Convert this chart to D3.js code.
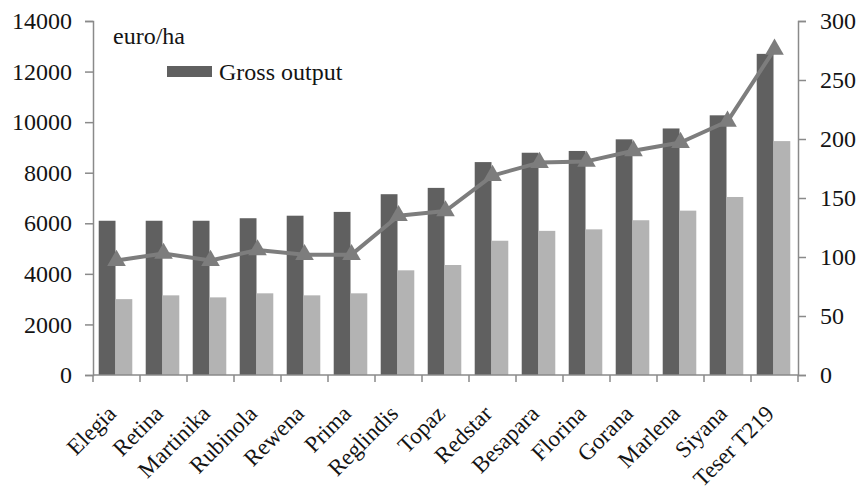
<!DOCTYPE html>
<html>
<head>
<meta charset="utf-8">
<script src="https://cdn.jsdelivr.net/npm/d3@7"></script>
<style>
  html, body { margin: 0; padding: 0; background: #fff; }
  svg { display: block; }
  text { font-family: "Liberation Serif", "Times New Roman", serif; fill: #141414; }
</style>
</head>
<body>
<svg id="chart" width="861" height="492"></svg>
<script>
// Apple varieties
const categories = ["Elegia", "Retina", "Martinika", "Rubinola", "Rewena", "Prima", "Reglindis",
  "Topaz", "Redstar", "Besapara", "Florina", "Gorana", "Marlena", "Siyana", "Teser T219"];

// euro/ha, left axis
const grossOutput = [6100, 6100, 6100, 6200, 6300, 6450, 7150, 7400, 8420, 8790, 8860, 9320, 9750, 10270, 12700];
const secondSeries = [3000, 3150, 3070, 3230, 3150, 3230, 4140, 4350, 5310, 5700, 5760, 6120, 6500, 7040, 9250];

// right axis
const indexLine = [97, 103, 97, 106, 102, 102, 135, 139, 169, 180, 181, 190, 197, 215, 276];

const leftTicks = [0, 2000, 4000, 6000, 8000, 10000, 12000, 14000];
const rightTicks = [0, 50, 100, 150, 200, 250, 300];

const unitLabel = "euro/ha";
const legendLabel = "Gross output";

const svg = d3.select("#chart");
const plot = { left: 93, right: 798, top: 21, bottom: 375 };

const axisColor = "#8a8a8a";
const darkColor = "#606060";
const lightColor = "#b3b3b3";
const lineColor = "#7d7d7d";

const x = d3.scaleBand().domain(categories).range([plot.left, plot.right]).padding(0);
const xSub = d3.scaleBand().domain(["a", "b"]).range([0, x.bandwidth()]).paddingInner(0).paddingOuter(0.4);
const yL = d3.scaleLinear().domain([0, 14000]).range([plot.bottom, plot.top]);
const yR = d3.scaleLinear().domain([0, 300]).range([plot.bottom, plot.top]);

// bars
const g = svg.append("g");
categories.forEach((c, i) => {
  g.append("rect")
    .attr("x", x(c) + xSub("a") - 1)
    .attr("y", yL(grossOutput[i]))
    .attr("width", xSub.bandwidth())
    .attr("height", yL(0) - yL(grossOutput[i]))
    .attr("fill", darkColor);
  g.append("rect")
    .attr("x", x(c) + xSub("b") - 1)
    .attr("y", yL(secondSeries[i]))
    .attr("width", xSub.bandwidth())
    .attr("height", yL(0) - yL(secondSeries[i]))
    .attr("fill", lightColor);
});

// left axis
const leftAxis = svg.append("g")
  .attr("transform", `translate(${plot.left},0)`)
  .call(d3.axisLeft(yL).tickValues(leftTicks).tickSize(8).tickPadding(13).tickFormat(d3.format("d")));
// right axis
const rightAxis = svg.append("g")
  .attr("transform", `translate(${plot.right},0)`)
  .call(d3.axisRight(yR).tickValues(rightTicks).tickSize(8).tickPadding(14).tickFormat(d3.format("d")));

[leftAxis, rightAxis].forEach(a => {
  a.select(".domain").attr("stroke", axisColor).attr("stroke-width", 1.5);
  a.selectAll(".tick line").attr("stroke", axisColor).attr("stroke-width", 1.5);
  a.selectAll(".tick text").attr("font-size", 24)
    .attr("font-family", "'Liberation Serif', serif").attr("fill", "#141414");
});

// bottom axis with ticks on category boundaries
const bottom = svg.append("g");
bottom.append("line")
  .attr("x1", plot.left).attr("x2", plot.right)
  .attr("y1", plot.bottom).attr("y2", plot.bottom)
  .attr("stroke", axisColor).attr("stroke-width", 1.5);
const boundaries = categories.map(c => x(c)).concat([x(categories[categories.length - 1]) + x.step()]);
bottom.selectAll("line.tick").data(boundaries).join("line")
  .attr("class", "tick")
  .attr("x1", d => d).attr("x2", d => d)
  .attr("y1", plot.bottom).attr("y2", plot.bottom + 7)
  .attr("stroke", axisColor).attr("stroke-width", 1.5);

bottom.selectAll("text.cat").data(categories).join("text")
  .attr("class", "cat")
  .attr("transform", d => `translate(${x(d) + x.bandwidth() / 2 + 1},${plot.bottom + 40}) rotate(-45)`)
  .attr("text-anchor", "end")
  .attr("font-size", 23)
  .text(d => d);

// line series with triangle markers
const line = d3.line()
  .x((d, i) => x(categories[i]) + x.bandwidth() / 2)
  .y(d => yR(d));
svg.append("path")
  .datum(indexLine)
  .attr("d", line)
  .attr("fill", "none")
  .attr("stroke", lineColor)
  .attr("stroke-width", 4)
  .attr("stroke-linejoin", "round");

const tri = d3.symbol().type(d3.symbolTriangle).size(150);
svg.selectAll("path.marker").data(indexLine).join("path")
  .attr("class", "marker")
  .attr("transform", (d, i) => `translate(${x(categories[i]) + x.bandwidth() / 2},${yR(d)})`)
  .attr("d", tri)
  .attr("fill", lineColor);

// unit label and legend
svg.append("text")
  .attr("x", 113).attr("y", 44)
  .attr("font-size", 24)
  .text(unitLabel);

svg.append("rect")
  .attr("x", 167).attr("y", 66).attr("width", 45).attr("height", 11)
  .attr("fill", darkColor);
svg.append("text")
  .attr("x", 219).attr("y", 80)
  .attr("font-size", 24)
  .text(legendLabel);
</script>
</body>
</html>
